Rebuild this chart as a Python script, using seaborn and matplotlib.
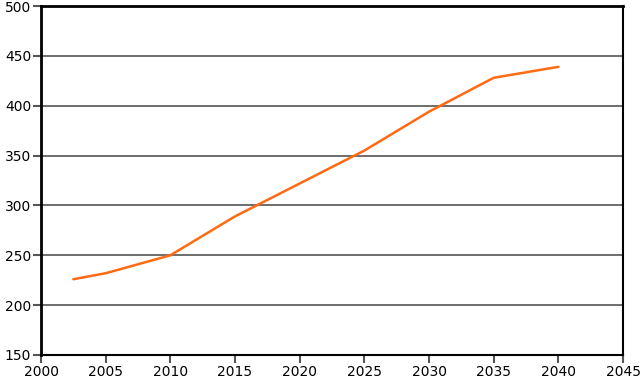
import matplotlib
matplotlib.use("Agg")
import matplotlib.pyplot as plt
import seaborn as sns
import pandas as pd

years = [2002.5, 2005, 2010, 2015, 2020, 2025, 2030, 2035, 2040]
values = [226, 232, 250, 289, 322, 355, 394, 428, 439]
xticks = [2000, 2005, 2010, 2015, 2020, 2025, 2030, 2035, 2040, 2045]
yticks = [150, 200, 250, 300, 350, 400, 450, 500]

sns.set_style("white")
plt.rcParams['font.family'] = ['DejaVu Sans']

df = pd.DataFrame({"year": years, "value": values})
fig = plt.figure(figsize=(6.43, 3.82), dpi=100)
ax = fig.add_axes([41/643, 27/382, 582/643, 349/382])
for y in yticks[1:-1]:
    ax.axhline(y, color="#555555", lw=1.2, zorder=0)
sns.lineplot(data=df, x="year", y="value", ax=ax, color="#FF6A13", lw=1.8)
ax.set_xlim(2000, 2045)
ax.set_ylim(150, 500)
ax.set_xticks(xticks)
ax.set_yticks(yticks)
ax.set_xlabel("")
ax.set_ylabel("")
for s in ax.spines.values():
    s.set_color("black")
    s.set_linewidth(2)
ax.spines["right"].set_linewidth(1.5)
ax.spines["bottom"].set_linewidth(1.5)
ax.tick_params(axis="both", length=6, width=1.5, color="#555555", labelsize=10,
               labelcolor="black", pad=1, direction="out")
ax.tick_params(axis="x", bottom=True)
ax.tick_params(axis="y", left=True)
fig.savefig("out.png", dpi=100)
